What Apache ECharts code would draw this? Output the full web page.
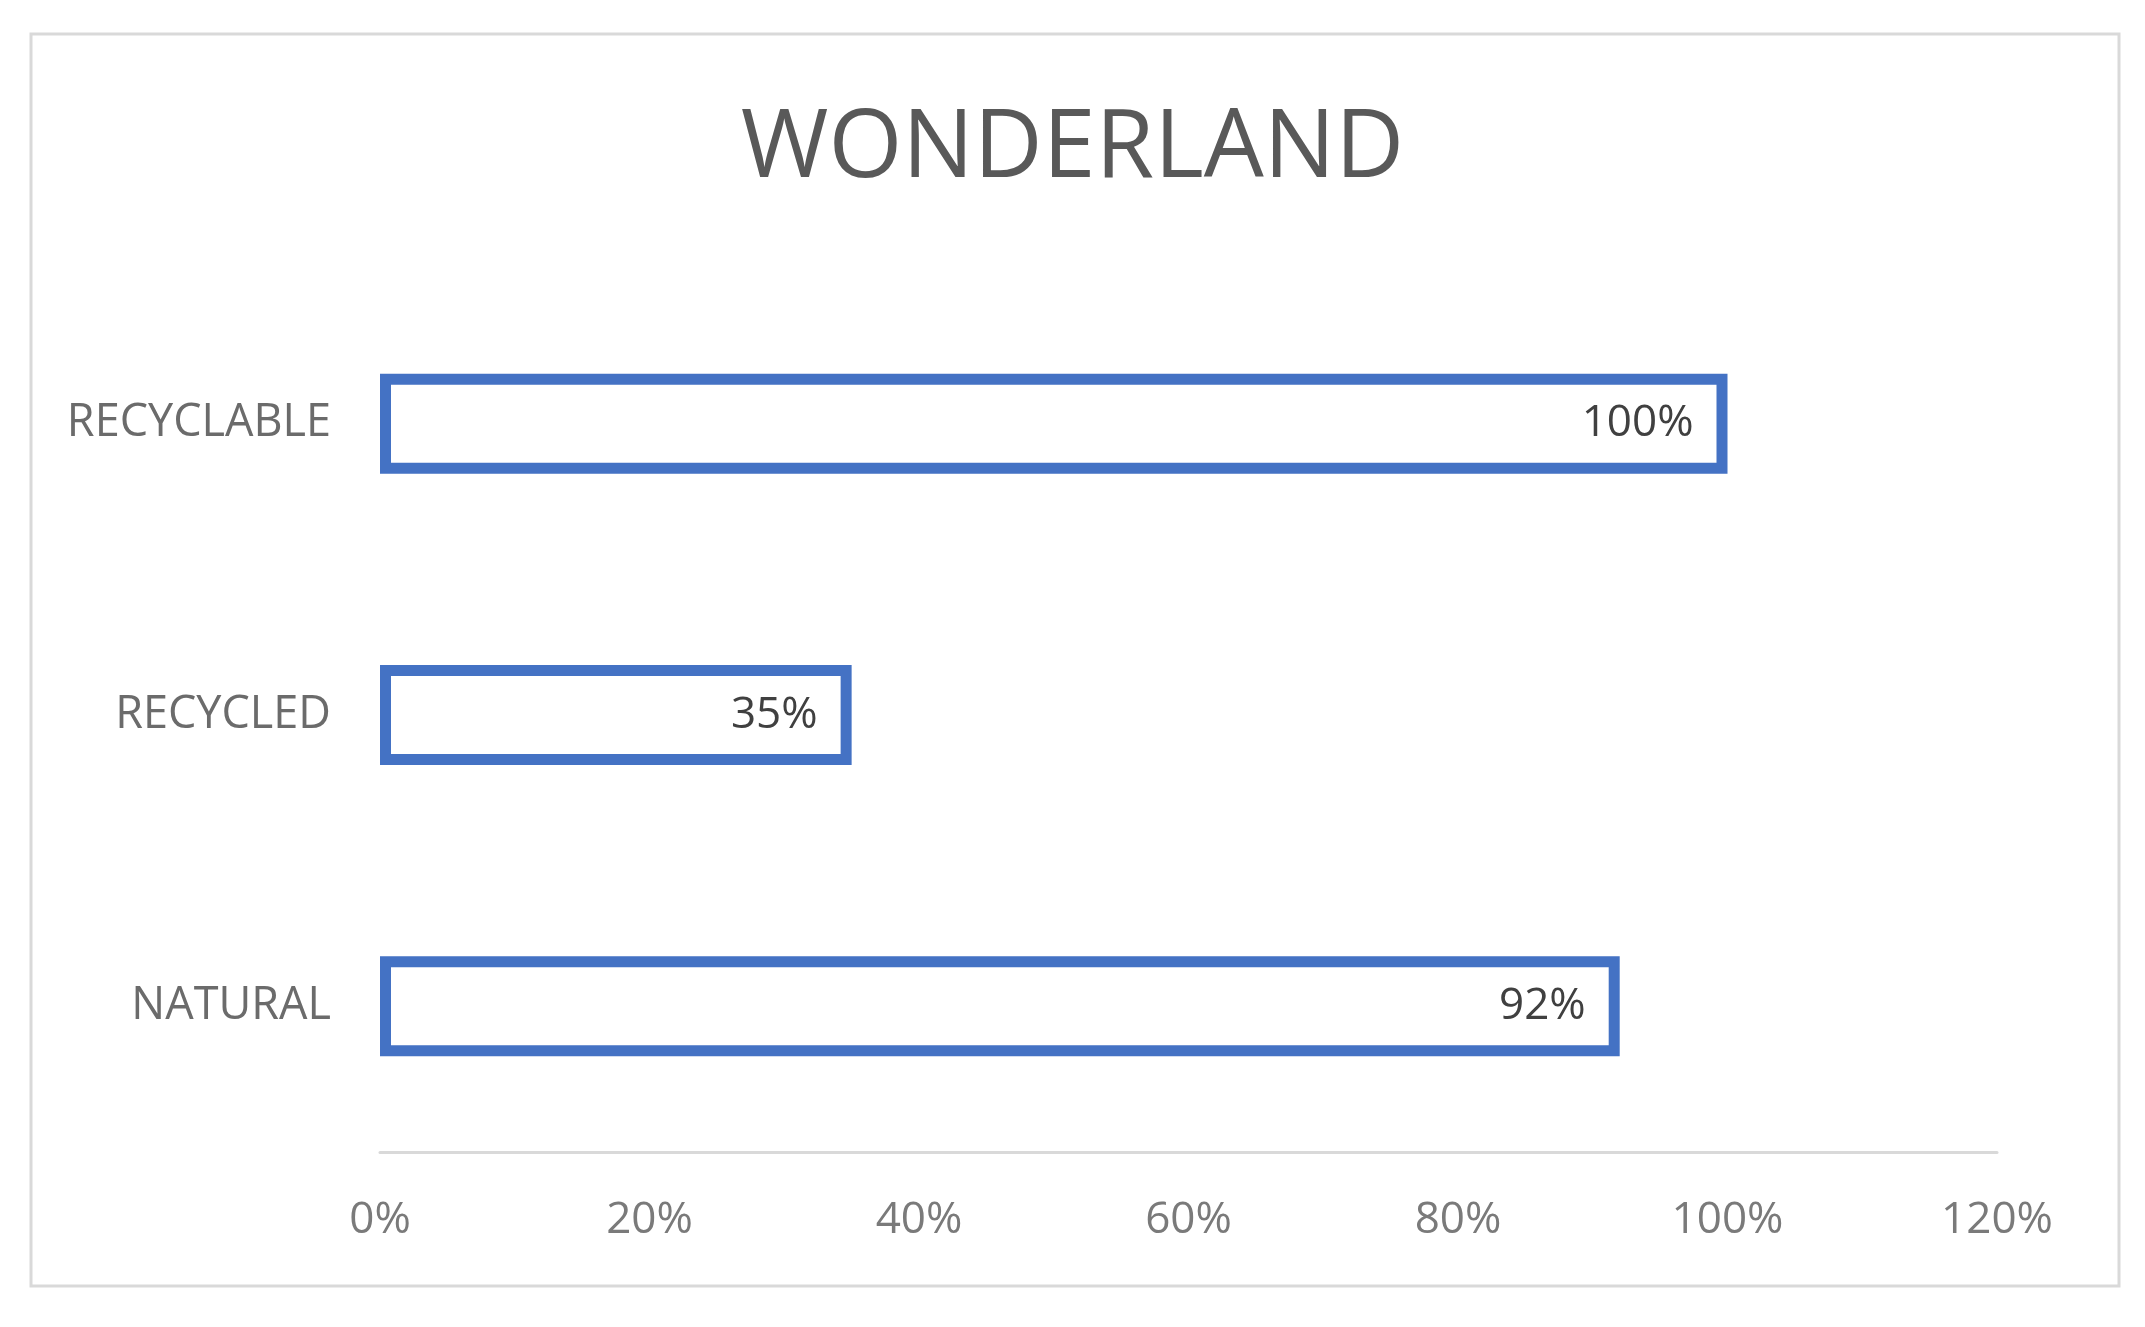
<!DOCTYPE html>
<html>
<head>
<meta charset="utf-8">
<script src="https://cdn.jsdelivr.net/npm/echarts@6/dist/echarts.min.js"></script>
<style>
  html, body { margin: 0; padding: 0; background: #fff; }
  #main { width: 2145px; height: 1327px; }
</style>
</head>
<body>
<div id="main"></div>
<script>
// categories bottom -> top (category axis draws first item at the bottom)
var categories = ['NATURAL', 'RECYCLED', 'RECYCLABLE'];
var values = [92, 35, 100];
var tickMax = 120;
var tickStep = 20;

var myChart = echarts.init(document.getElementById('main'));
var font = '"Open Sans", "Liberation Sans", sans-serif';

var option = {
  backgroundColor: '#ffffff',
  animation: false,
  title: {
    text: 'WONDERLAND',
    left: 'center',
    top: 98,
    padding: 0,
    textStyle: {
      fontFamily: font,
      fontSize: 95,
      fontWeight: 'normal',
      color: '#595959',
      lineHeight: 104
    }
  },
  // outer chart frame
  graphic: [
    {
      type: 'rect',
      shape: { x: 31, y: 34, width: 2088, height: 1252 },
      style: { fill: null, stroke: '#d9d9d9', lineWidth: 3 },
      silent: true
    }
  ],
  grid: {
    left: 380,
    right: 148,
    top: 278,
    bottom: 175,
    containLabel: false
  },
  xAxis: {
    type: 'value',
    min: 0,
    max: tickMax,
    interval: tickStep,
    axisLine: { show: true, lineStyle: { color: '#d9d9d9', width: 3 } },
    axisTick: { show: false },
    splitLine: { show: false },
    axisLabel: {
      margin: 46,
      fontFamily: font,
      fontSize: 44,
      color: '#7a7a7a',
      formatter: function (v) { return v + '%'; }
    }
  },
  yAxis: {
    type: 'category',
    data: categories,
    axisLine: { show: false },
    axisTick: { show: false },
    splitLine: { show: false },
    axisLabel: {
      margin: 49,
      fontFamily: font,
      fontSize: 45,
      color: '#6b6b6b'
    }
  },
  series: [
    {
      type: 'bar',
      data: values,
      barWidth: 100,
      itemStyle: {
        color: '#ffffff',
        borderColor: '#4472C4',
        borderWidth: 11
      },
      label: {
        show: true,
        position: 'insideRight',
        distance: 34,
        fontFamily: font,
        fontSize: 44,
        color: '#404040',
        formatter: function (p) { return p.value + '%'; }
      }
    }
  ]
};
myChart.setOption(option);
</script>
</body>
</html>
